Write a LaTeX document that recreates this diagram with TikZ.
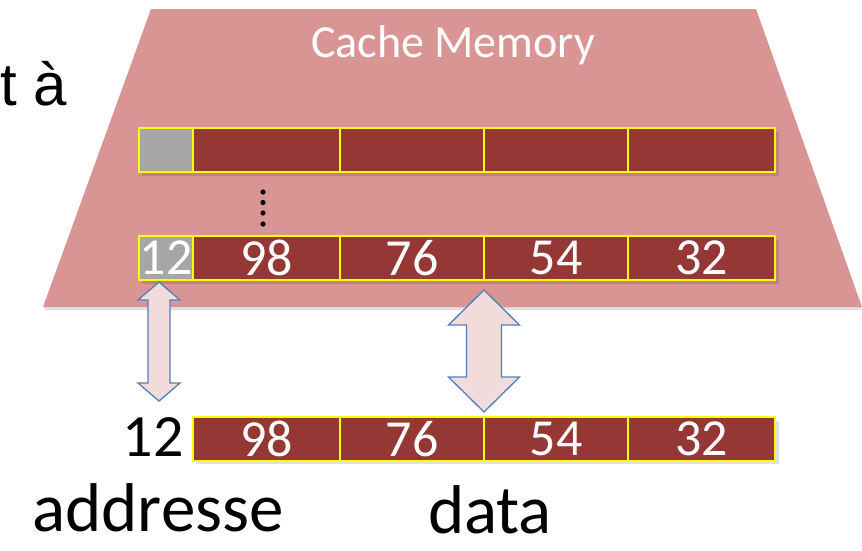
\documentclass[tikz,border=0pt]{standalone}
\usepackage{fontspec}
\setmainfont{Carlito}
\newfontfamily\arialfont{Liberation Sans}
\definecolor{trap}{HTML}{D99594}
\definecolor{cellred}{HTML}{953735}
\definecolor{cellgray}{HTML}{A6A6A6}
\definecolor{arrfill}{HTML}{F2DCDB}
\definecolor{arrline}{HTML}{4F81BD}
\definecolor{cellline}{HTML}{FFFF00}
\begin{document}
\begin{tikzpicture}[x=1pt,y=-1pt,
  cellbox/.style={draw=cellline, line width=1.8pt, fill=cellred, inner sep=0pt,
    minimum height=44pt, text=white, font=\fontsize{52}{52}\selectfont},
  tagbox/.style={cellbox, fill=cellgray},
  blockarrow/.style={draw=arrline, fill=arrfill, line width=1.3pt, line join=miter},
  rowshadow/.style={fill=black, opacity=0.12},
  biglabel/.style={anchor=base, font=\fontsize{69}{69}\selectfont, inner sep=0pt}]
\useasboundingbox (0,0) rectangle (862,550);
% trapezoid
\fill[black!12] (153,12) -- (757,12) -- (862,310) -- (44,310) -- cycle;
\fill[trap] (151,9) -- (756,9) -- (862,307) -- (43,307) -- cycle;
\node[text=white, font=\fontsize{46}{46}\selectfont, anchor=base] (title) at (453,57) {Cache Memory};
\node[anchor=base west, inner sep=0pt, font=\arialfont\fontsize{60}{60}\selectfont] (ta) at (0,105) {t à};
% row shadows
\fill[rowshadow] (142,132) rectangle (779,176);
\fill[rowshadow] (142,240) rectangle (779,284);
\fill[rowshadow] (196,421) rectangle (779,464);
% top row
\node[tagbox, minimum width=54pt] (t0) at (166,150) {};
\node[cellbox, minimum width=147pt] (a1) at (266.5,150) {};
\node[cellbox, minimum width=144pt] (a2) at (412,150) {};
\node[cellbox, minimum width=144pt] (a3) at (556,150) {};
\node[cellbox, minimum width=147pt] (a4) at (701.5,150) {};
% dots
\foreach \yy in {192,202.5,213,224} \fill (263,\yy) circle (2.6pt);
% second row
\node[tagbox, minimum width=54pt] (t1) at (166,258) {12};
\node[cellbox, minimum width=147pt] (b1) at (266.5,258) {98};
\node[cellbox, minimum width=144pt] (b2) at (412,258) {76};
\node[cellbox, minimum width=144pt] (b3) at (556,258) {54};
\node[cellbox, minimum width=147pt] (b4) at (701.5,258) {32};
% bottom row
\node[font=\fontsize{60}{60}\selectfont, inner sep=0pt, anchor=east] (addr) at (184,437) {12};
\node[cellbox, minimum width=147pt] (c1) at (266.5,439) {98};
\node[cellbox, minimum width=144pt] (c2) at (412,439) {76};
\node[cellbox, minimum width=144pt] (c3) at (556,439) {54};
\node[cellbox, minimum width=147pt] (c4) at (701.5,439) {32};
% left double arrow
\draw[blockarrow] (159,282) -- (180,300) -- (170,300) -- (170,383) -- (180,383) -- (159,401)
  -- (138,383) -- (148,383) -- (148,300) -- (138,300) -- cycle;
% right double arrow
\draw[blockarrow] (484,290) -- (519.5,325) -- (501.5,325) -- (501.5,377) -- (519.5,377) -- (484,412)
  -- (448.5,377) -- (466.5,377) -- (466.5,325) -- (448.5,325) -- cycle;
% labels
\node[biglabel] (lab1) at (158,531) {addresse};
\node[biglabel] (lab2) at (490,533) {data};
\end{tikzpicture}
\end{document}
